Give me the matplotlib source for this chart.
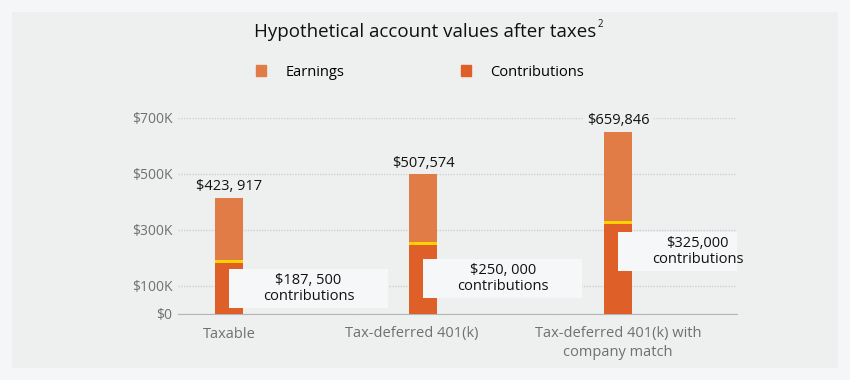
#!/usr/bin/env python3

import matplotlib.pyplot as plt
from matplotlib.patches import Rectangle, Patch
from matplotlib.transforms import offset_copy

plt.rcParams['font.family'] = ['Open Sans', 'DejaVu Sans']

# data
categories = ['Taxable', 'Tax-deferred 401(k)', 'Tax-deferred 401(k) with\ncompany match']
totals = [423917, 507574, 659846]
contributions = [187500, 250000, 325000]
total_labels = ['$423, 917', '$507,574', '$659,846']
contrib_labels = ['$187, 500\ncontributions', '$250, 000\ncontributions', '$325,000\ncontributions']
yticks = [0, 100000, 300000, 500000, 700000]
ytick_labels = ['$0', '$100K', '$300K', '$500K', '$700K']

# callout box bottoms (layout only)
box_bottoms = [21500, 57000, 153500]

c_earn = '#e27c47'
c_contrib = '#df5f29'
c_yellow = '#ffd200'
panel = '#eeefef'
outer = '#f5f6f8'

W, H = 850, 380
fig = plt.figure(figsize=(W / 100, H / 100), dpi=100, facecolor=outer)
fig.patches.append(Rectangle((12 / W, 12 / H), 826 / W, 356 / H, transform=fig.transFigure,
                             facecolor=panel, edgecolor='none', zorder=-10))

ax = fig.add_axes([178 / W, (H - 314) / H, (737 - 178) / W, 196 / H])
ax.set_facecolor('none')
ax.set_xlim(-0.262, 2.612)
ax.set_ylim(0, 700000)

x = range(len(categories))
bw = 0.144
earnings = [t - c for t, c in zip(totals, contributions)]
ax.bar(x, contributions, width=bw, color=c_contrib, zorder=3)
ax.bar(x, earnings, bottom=contributions, width=bw, color=c_earn, zorder=3)
# yellow separator
ax.bar(x, [11000] * 3, bottom=[c - 4000 for c in contributions], width=bw, color=c_yellow, zorder=4)

for i in x:
    ax.text(i, totals[i] + 4000, total_labels[i], ha='center', va='bottom', fontsize=10.5,
            color='#111111', zorder=6,
            bbox=dict(facecolor=panel, edgecolor='none', boxstyle='square,pad=0.25'))
    ax.add_patch(Rectangle((i, box_bottoms[i]), 0.817, 139000, facecolor='#f6f7f8',
                           edgecolor='none', zorder=5))
    ax.text(i + 0.817 / 2, box_bottoms[i] + 69500, contrib_labels[i], ha='center', va='center',
            fontsize=10.5, color='#111111', linespacing=1.05, zorder=6)

ax.set_yticks(yticks)
ax.set_yticklabels(ytick_labels)
ax.set_xticks(list(x))
ax.set_xticklabels(categories, linespacing=1.3)
ax.tick_params(axis='both', length=0, labelsize=10, labelcolor='#707070')
ax.tick_params(axis='x', pad=9, labelsize=10.5)
ax.tick_params(axis='y', pad=4)
lab = ax.get_xticklabels()[1]
lab.set_transform(offset_copy(lab.get_transform(), fig=fig, x=-12, units='dots'))
for s in ['top', 'right', 'left']:
    ax.spines[s].set_visible(False)
ax.spines['bottom'].set_color('#b5b5b5')
ax.yaxis.grid(True, linestyle=(0, (1, 1)), color='#cfd1d1', linewidth=1, zorder=0)
ax.set_axisbelow(True)

title = fig.text(425 / W, 1 - 32 / H, 'Hypothetical account values after taxes', ha='center',
                 va='center', fontsize=13.5, color='#111111')
ax.annotate('2', xy=(1, 1), xycoords=title, xytext=(1, 3), textcoords='offset points',
            ha='left', va='top', fontsize=7, color='#111111')

handles = [Patch(color=c_earn), Patch(color=c_contrib)]
fig.legend(handles, ['Earnings', 'Contributions'], loc='center', bbox_to_anchor=(420 / W, 1 - 72 / H),
           ncol=2, frameon=False, fontsize=10.5, handlelength=0.7, handleheight=0.7,
           handletextpad=1.3, columnspacing=8)

fig.savefig('out.png', dpi=100, facecolor=outer)
